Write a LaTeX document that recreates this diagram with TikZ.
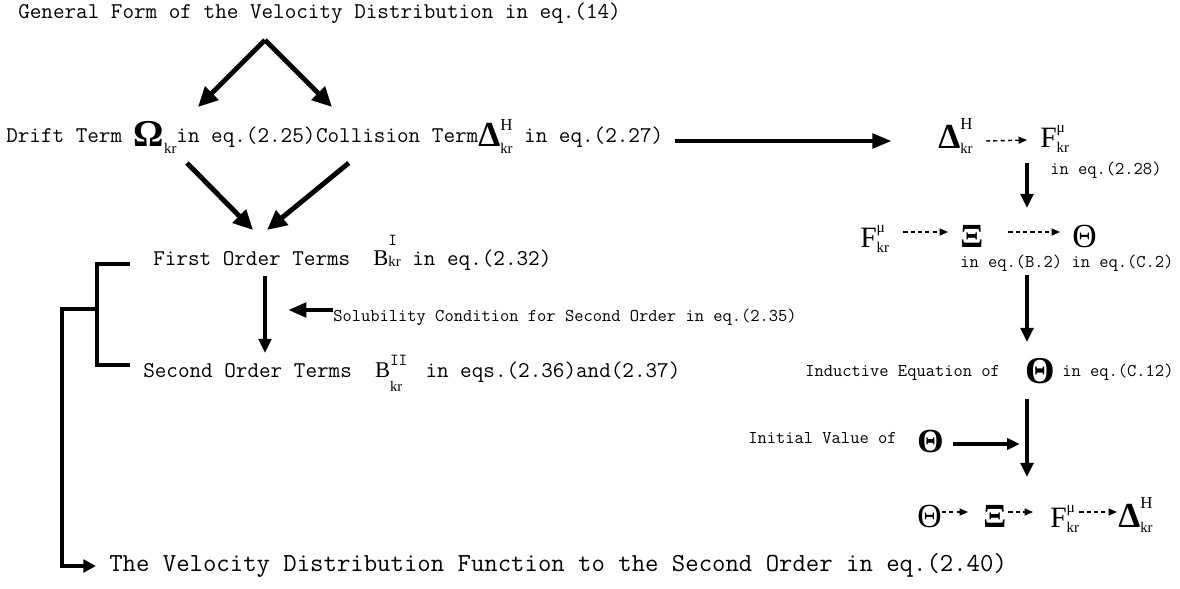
\documentclass[tikz,border=0pt]{standalone}
\usepackage{fontspec}
\newfontfamily\symf{Liberation Serif}
\usetikzlibrary{arrows.meta,positioning,calc}

% serif symbols, plain and bold, at a given size
\newcommand{\gk}[2]{{\symf\fontsize{#1}{#1}\selectfont #2}}
\newcommand{\gb}[2]{{\symf\bfseries\fontsize{#1}{#1}\selectfont #2}}
\newcommand{\kr}{\gk{10.5}{kr}}
\newcommand{\supsub}[4]{\rlap{\raisebox{#3}{#1}}\raisebox{#4}{#2}}

\begin{document}
\begin{tikzpicture}[x=0.025cm,y=-0.025cm,
    every node/.style={inner sep=0pt},
    txt/.style={font=\ttfamily\fontsize{16}{19}\selectfont, anchor=base west},
    sml/.style={font=\ttfamily\fontsize{12.8}{15}\selectfont, anchor=base west},
    bigtxt/.style={font=\ttfamily\fontsize{18.5}{22}\selectfont, anchor=base west},
    sym/.style={anchor=base west},
    heavy/.style={line width=3.5pt, -{Triangle[length=14pt,width=13pt]}},
    medarr/.style={line width=2.6pt, -{Triangle[length=10pt,width=9pt]}},
    dasharr/.style={line width=1pt, dash pattern=on 3pt off 2.2pt, -{Triangle[length=6pt,width=5pt]}},
    brk/.style={line width=3.5pt}]
  \useasboundingbox (0,0) rectangle (1180,588);

  % left part
  \node[txt] (title) at (18,18) {General Form of the Velocity Distribution in eq.(14)};
  \node[txt] (drift) at (6,142) {Drift Term \raisebox{-3.5pt}{\gb{27}{Ω}}\raisebox{-8pt}{\kr}in eq.(2.25)};
  \node[txt] (collision) at (drift.base east) {Collision Term\raisebox{-3.5pt}{\gb{25}{Δ}}\supsub{\gk{12}{H}}{\kr}{8.5pt}{-8pt} in eq.(2.27)};
  \node[txt] (first) at (153,265) {First Order Terms~ \gk{16}{B}\supsub{\fontsize{12}{12}\selectfont I}{\kr}{14pt}{-1pt} in eq.(2.32)};
  \node[sml] (solub) at (333,321) {Solubility Condition for Second Order in eq.(2.35)};
  \node[txt] (second) at (143,377) {Second Order Terms~ \gk{16}{B}\supsub{\fontsize{12}{12}\selectfont II}{\kr}{8.5pt}{-10.5pt}~ in eqs.(2.36)and(2.37)};
  \node[bigtxt] (bottom) at (109,571) {The Velocity Distribution Function to the Second Order in eq.(2.40)};

  % right part
  \node[sym] (dH) at (938,148) {\gb{25}{Δ}\supsub{\gk{12}{H}}{\kr}{13pt}{-3.6pt}};
  \node[sym] (fmu1) at (1040,147) {\gk{21}{F}\supsub{\gk{11}{μ}}{\kr}{10pt}{-4pt}};
  \node[sml] (eq228) at (1050,174) {in eq.(2.28)};
  \node[sym] (fmu2) at (860,247) {\gk{21}{F}\supsub{\gk{11}{μ}}{\kr}{10pt}{-4pt}};
  \node[sym] (xi1) at (960,247) {\gb{24}{Ξ}};
  \node[sym] (th1) at (1072,247) {\gk{24}{Θ}};
  \node[sml] (eqB) at (960,267) {in eq.(B.2) in eq.(C.2)};
  \node[sml] (induct) at (805,376) {Inductive Equation of};
  \node[sym] (th2) at (1025,383) {\gb{27}{Θ}};
  \node[sml] (eqC) at (1062,376) {in eq.(C.12)};
  \node[sml] (init) at (748,443) {Initial Value of};
  \node[sym] (th3) at (917,452) {\gb{24}{Θ}};
  \node[sym] (th4) at (917,527) {\gk{24}{Θ}};
  \node[sym] (xi2) at (983,527) {\gb{24}{Ξ}};
  \node[sym] (fmu3) at (1050,527) {\gk{21}{F}\supsub{\gk{11}{μ}}{\kr}{10pt}{-4pt}};
  \node[sym] (dH2) at (1118,527) {\gb{25}{Δ}\supsub{\gk{12}{H}}{\kr}{13pt}{-3.6pt}};

  % connectors, left
  \coordinate (apex) at (265,40);
  \draw[heavy] (apex) -- ++(-67,67);
  \draw[heavy] (apex) -- ++(67,67);
  \draw[heavy] ([shift={(181,21)}]drift.base west) -- ([shift={(100,-35)}]first.base west);
  \draw[heavy] ([shift={(33,21)}]collision.base west) -- ([shift={(114,-35)}]first.base west);
  \draw[medarr] ([shift={(112,11)}]first.base west) -- ([shift={(122,-24)}]second.base west);
  \draw[line width=3.5pt, -{Triangle[length=13pt,width=10pt]}] ([shift={(0,-11)}]solub.base west) -- ++(-45,0);
  \draw[brk] ([shift={(-23,-1)}]first.base west) -- ++(-33,0) |- ([shift={(-13,-12)}]second.base west);
  \coordinate (fork) at ([shift={(-56,44)}]first.base west);
  \draw[brk, -{Triangle[length=9pt,width=9pt]}] (fork) -- ++(-35,0) |- ([shift={(-13,-5)}]bottom.base west);

  % connectors, right
  \draw[line width=3.5pt, -{Triangle[length=14pt,width=10pt]}] ([shift={(11,-1)}]collision.base east) -- ([shift={(-46,-7)}]dH.base west);
  \draw[dasharr] ([shift={(13,-7)}]dH.base east) -- ([shift={(-13,-7)}]fmu1.base west);
  \draw[medarr] ([shift={(-13,16)}]fmu1.base west) -- ++(0,45);
  \draw[dasharr] ([shift={(14,-15)}]fmu2.base east) -- ([shift={(-12,-15)}]xi1.base west);
  \draw[dasharr] ([shift={(25,-15)}]xi1.base east) -- ([shift={(-12,-15)}]th1.base west);
  \draw[medarr] ([shift={(67,8)}]eqB.base west) -- ([shift={(2,-41)}]th2.base west);
  \draw[medarr] ([shift={(2,16)}]th2.base west) -- ++(0,78);
  \draw[line width=2.4pt, -{Triangle[length=9pt,width=8pt]}] ([shift={(9,-8)}]th3.base east) -- ++(67,0);
  \draw[dasharr] ([shift={(0,-15)}]th4.base east) -- ([shift={(-15,-15)}]xi2.base west);
  \draw[dasharr] ([shift={(2,-15)}]xi2.base east) -- ([shift={(-17,-15)}]fmu3.base west);
  \draw[dasharr] ([shift={(0,-15)}]fmu3.base east) -- ([shift={(-1,-15)}]dH2.base west);
\end{tikzpicture}
\end{document}
